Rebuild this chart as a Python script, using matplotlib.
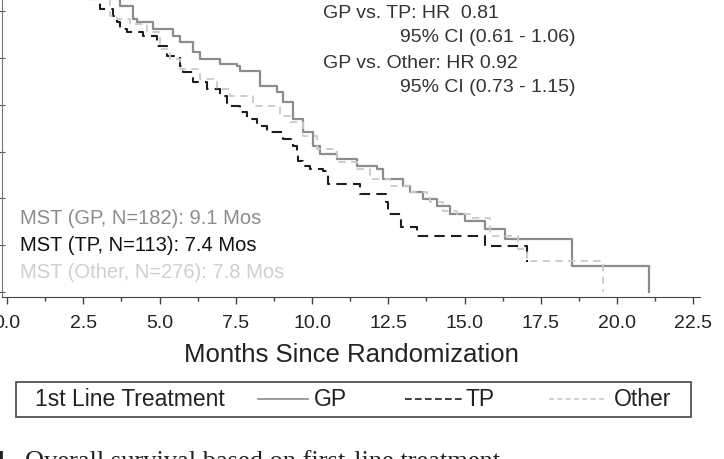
import matplotlib.pyplot as plt
from matplotlib.lines import Line2D
from matplotlib.patches import Rectangle
from matplotlib.ticker import MultipleLocator, FormatStrFormatter

# Kaplan-Meier steps (months, survival after the step)
gp_t = [0, 0.5, 1.0, 1.5, 2.0, 2.5, 3.0, 3.64, 3.70, 4.13, 4.26, 4.79, 5.44, 5.67, 6.10, 6.33,
        6.98, 7.54, 7.64, 8.30, 8.85, 9.05, 9.38, 9.70, 10.03, 10.26, 10.82, 11.48, 12.13,
        12.33, 12.98, 13.21, 13.64, 14.10, 14.52, 15.02, 15.67, 16.33, 18.52, 21.05]
gp_s = [1.0, 0.98, 0.95, 0.92, 0.89, 0.86, 0.82, 0.783, 0.765, 0.730, 0.722, 0.703, 0.684,
        0.668, 0.642, 0.623, 0.610, 0.604, 0.591, 0.551, 0.535, 0.508, 0.463, 0.428, 0.390,
        0.369, 0.356, 0.337, 0.329, 0.302, 0.283, 0.267, 0.249, 0.230, 0.209, 0.190, 0.168,
        0.142, 0.070, 0.0]

tp_t = [0, 0.6, 1.2, 1.8, 2.3, 2.66, 3.05, 3.48, 3.61, 3.70, 3.93, 4.46, 4.92, 5.25, 5.67,
        5.77, 6.10, 6.56, 6.98, 7.21, 7.64, 7.87, 8.20, 8.52, 9.05, 9.38, 9.51, 9.54, 9.70,
        9.93, 10.36, 10.52, 11.57, 12.43, 12.49, 12.92, 13.44, 15.67, 17.05]
tp_s = [1.0, 0.96, 0.91, 0.86, 0.81, 0.783, 0.757, 0.738, 0.722, 0.703, 0.695, 0.684, 0.658,
        0.631, 0.604, 0.588, 0.561, 0.543, 0.524, 0.497, 0.481, 0.463, 0.444, 0.428, 0.409,
        0.390, 0.374, 0.350, 0.337, 0.329, 0.324, 0.289, 0.262, 0.241, 0.209, 0.174, 0.150,
        0.123, 0.080]

other_t = [0, 0.6, 1.2, 1.8, 2.4, 2.95, 3.38, 3.61, 4.03, 4.59, 5.02, 5.34, 5.67, 6.33, 6.89,
           7.31, 8.07, 8.95, 9.28, 9.70, 10.16, 10.82, 11.48, 11.90, 12.56, 13.21, 13.77,
           13.87, 14.30, 14.75, 15.18, 15.84, 16.75, 17.05, 19.54]
other_s = [1.0, 0.96, 0.92, 0.87, 0.82, 0.783, 0.738, 0.730, 0.717, 0.695, 0.650, 0.623,
           0.596, 0.570, 0.543, 0.524, 0.497, 0.471, 0.455, 0.417, 0.382, 0.348, 0.329, 0.302,
           0.283, 0.267, 0.257, 0.241, 0.217, 0.209, 0.198, 0.150, 0.115, 0.083, 0.0]

hr_lines = ['GP vs. TP: HR  0.81', '95% CI (0.61 - 1.06)',
            'GP vs. Other: HR 0.92', '95% CI (0.73 - 1.15)']
mst_lines = ['MST (GP, N=182): 9.1 Mos', 'MST (TP, N=113): 7.4 Mos', 'MST (Other, N=276): 7.8 Mos']

c_gp, c_tp, c_other = '#8c8c8c', '#1e1e1e', '#c9c9c9'
narrow = ['Liberation Sans Narrow', 'Liberation Sans', 'DejaVu Sans']
arial = ['Liberation Sans', 'DejaVu Sans']

W, H = 724, 460
fig = plt.figure(figsize=(W / 100, H / 100), dpi=100)

# axes reaches above the top edge, the picture is a crop
ylo, yhi = -0.0134, 1.02
ax = fig.add_axes([2 / W, (H - 298) / H, 698 / W, (yhi - ylo) * 374 / H])
ax.set_xlim(-0.164, 22.72)
ax.set_ylim(ylo, yhi)

ax.plot(gp_t, gp_s, drawstyle='steps-post', color=c_gp, lw=1.6)
ax.plot(tp_t, tp_s, drawstyle='steps-post', color=c_tp, lw=1.5, dashes=(5, 3))
ax.plot(other_t, other_s, drawstyle='steps-post', color=c_other, lw=1.3, dashes=(4, 3))

for s in ['top', 'right']:
    ax.spines[s].set_visible(False)
ax.spines['left'].set_color('#777777')
ax.spines['bottom'].set_color('#444444')

ax.xaxis.set_major_locator(MultipleLocator(2.5))
ax.xaxis.set_minor_locator(MultipleLocator(1.25))
ax.xaxis.set_major_formatter(FormatStrFormatter('%.1f'))
ax.yaxis.set_major_locator(MultipleLocator(0.125))
ax.tick_params(axis='x', which='major', direction='out', length=5, width=1, color='#444444',
               pad=7, labelsize=14, labelcolor='#222222')
ax.tick_params(axis='x', which='minor', direction='out', length=3, width=1, color='#444444')
ax.tick_params(axis='y', direction='inout', length=5, color='#555555', labelleft=False)
for lab in ax.get_xticklabels():
    lab.set_family(narrow)

ax.set_xlabel('Months Since Randomization', family=narrow, fontsize=18.5, color='#222222')
ax.xaxis.set_label_coords(0.5, (298 - 343) / ((yhi - ylo) * 374))

for i, line in enumerate(hr_lines):
    x = 323 if i % 2 == 0 else 400
    fig.text(x / W, (H - 13 - 25 * i) / H, line, family=arial, fontsize=14,
             color='#333333', va='center', ha='left')
for i, (line, c) in enumerate(zip(mst_lines, ['#8c8c8c', '#111111', '#cfcfcf'])):
    fig.text(20 / W, (H - 218 - 27.5 * i) / H, line, family=arial, fontsize=14.5,
             color=c, va='center', ha='left')

# legend box drawn by hand
fig.add_artist(Rectangle((16 / W, (H - 418) / H), 675 / W, 35 / H, transform=fig.transFigure,
                         fill=False, edgecolor='#444444', lw=1.2))
ly = (H - 400) / H
fig.text(35 / W, ly, '1st Line Treatment', family=narrow, fontsize=16.5, color='#222222', va='center')
for (x0, x1), c, d, lab, xt in [((258, 308), c_gp, None, 'GP', 314),
                                ((405, 462), c_tp, (4, 2), 'TP', 466),
                                ((549, 607), c_other, (3, 2), 'Other', 614)]:
    ln = Line2D([x0 / W, x1 / W], [ly, ly], transform=fig.transFigure, color=c, lw=1.2)
    if d:
        ln.set_dashes(d)
    fig.add_artist(ln)
    fig.text(xt / W, ly, lab, family=narrow, fontsize=16.5, color='#222222', va='center')

# caption, cut off by the bottom edge
fig.text(12 / W, (H - 468) / H, 'Figure 4.', family=['Liberation Serif'], fontsize=19,
         fontweight='bold', ha='right', va='baseline', color='#222222')
fig.text(25 / W, (H - 468) / H, 'Overall survival based on first-line treatment',
         family=['Liberation Serif'], fontsize=19, ha='left', va='baseline', color='#222222')

fig.savefig('out.png', dpi=100)
